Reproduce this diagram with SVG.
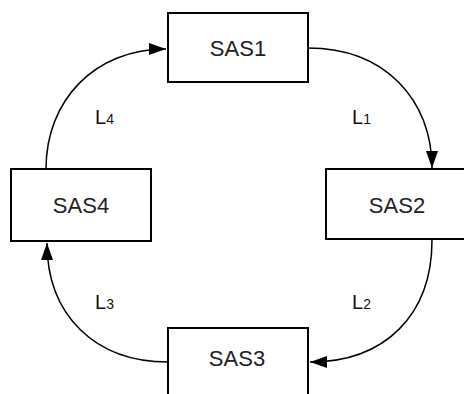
<svg xmlns="http://www.w3.org/2000/svg" width="464" height="394" viewBox="0 0 464 394">
<defs>
<style>
.box{fill:#fff;stroke:#000;stroke-width:2}
.lbl{font-family:"Liberation Sans",Arial,sans-serif;font-size:22px;fill:#222;text-anchor:middle}
.l{font-family:"Liberation Sans",Arial,sans-serif;font-size:20px;fill:#111}
.sub{font-size:14px}
.edge{fill:none;stroke:#000;stroke-width:1.5}
</style>
<marker id="ah" markerWidth="18" markerHeight="12" refX="17" refY="6" orient="auto" markerUnits="userSpaceOnUse">
<path d="M0,0 L17,6 L0,12 Z" fill="#000"/>
</marker>
</defs>
<rect width="464" height="394" fill="#fff"/>
<g id="connectors">
<path class="edge" d="M308,48 C385,48 432,100 432,168" marker-end="url(#ah)"/>
<path class="edge" d="M432,240 C432,315 385,362 310,362" marker-end="url(#ah)"/>
<path class="edge" d="M168,362 C95,362 47,315 47,243" marker-end="url(#ah)"/>
<path class="edge" d="M46,169 C46,100 95,49 166,49" marker-end="url(#ah)"/>
</g>
<g id="SAS1"><rect class="box" x="168" y="13" width="140" height="69"/><text class="lbl" x="238" y="56">SAS1</text></g>
<g id="SAS2"><rect class="box" x="326" y="169" width="140" height="70"/><text class="lbl" x="397" y="213">SAS2</text></g>
<g id="SAS3"><rect class="box" x="168" y="328" width="140" height="70"/><text class="lbl" x="237" y="366">SAS3</text></g>
<g id="SAS4"><rect class="box" x="11" y="169" width="140" height="72"/><text class="lbl" x="81" y="213">SAS4</text></g>
<g id="labels">
<text class="l" x="352" y="124">L<tspan class="sub">1</tspan></text>
<text class="l" x="352" y="309">L<tspan class="sub">2</tspan></text>
<text class="l" x="95" y="309">L<tspan class="sub">3</tspan></text>
<text class="l" x="95" y="124">L<tspan class="sub">4</tspan></text>
</g>
</svg>
